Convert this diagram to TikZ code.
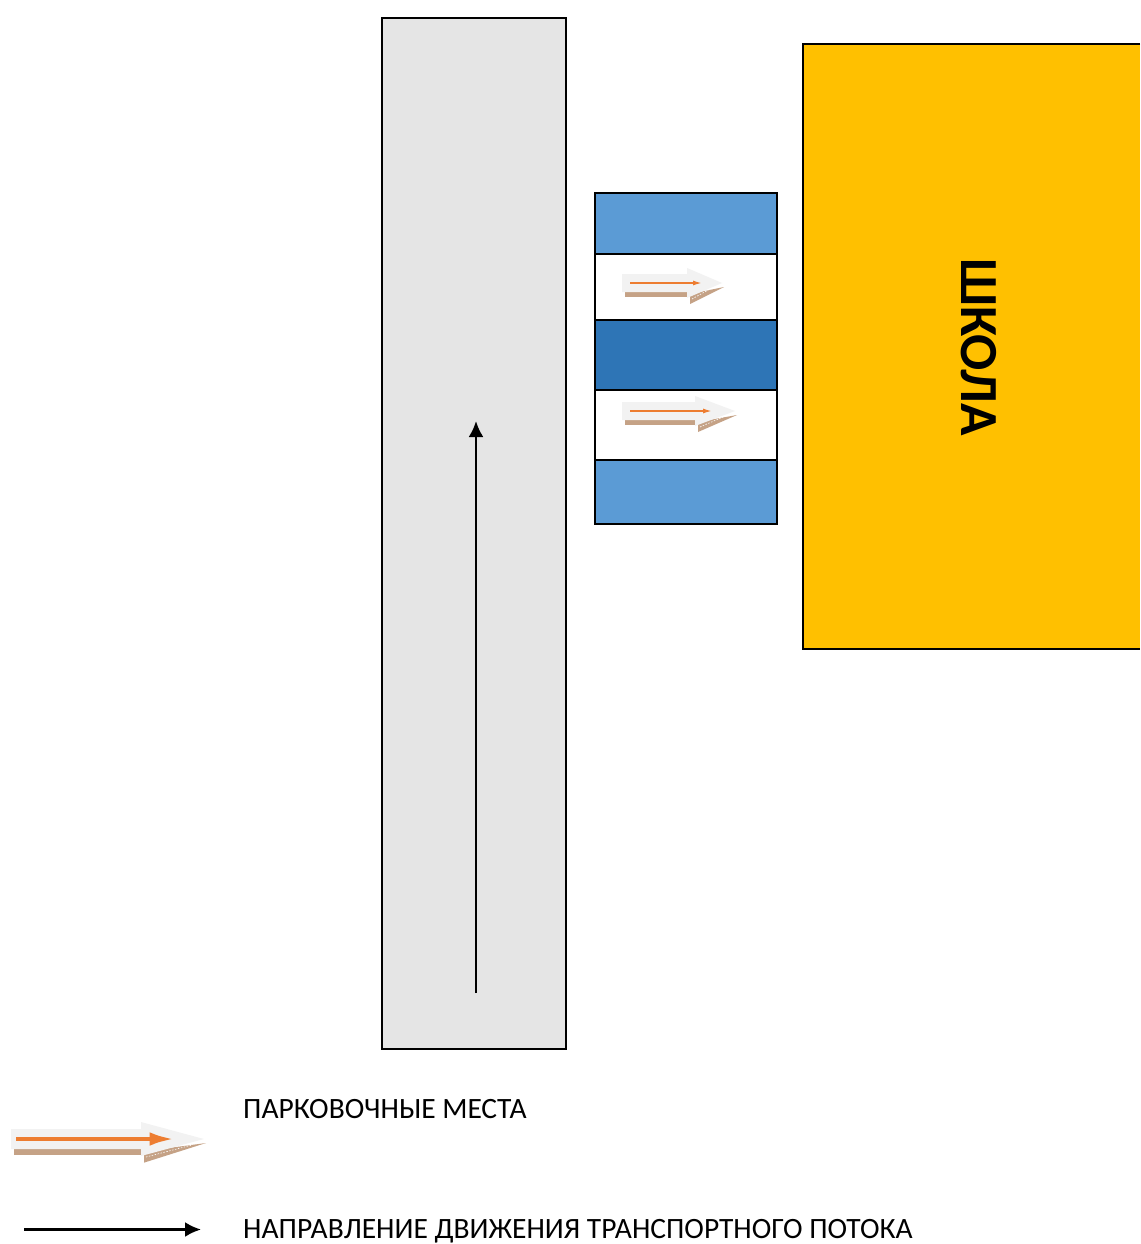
\documentclass[tikz,border=0pt]{standalone}
\usepackage{fontspec}
\setmainfont{Carlito}
\usetikzlibrary{arrows.meta}

\definecolor{roadgray}{HTML}{E5E5E5}
\definecolor{lightblue}{HTML}{5B9BD5}
\definecolor{darkblue}{HTML}{2E75B6}
\definecolor{schoolyellow}{HTML}{FFC000}
\definecolor{parkorange}{HTML}{ED7D31}
\definecolor{parkshadow}{HTML}{C5A286}
\definecolor{parkgray}{HTML}{F2F2F2}

\tikzset{
  box/.style={draw=black, line width=2.4pt},
  flow/.style={draw=black, line width=2.5pt, -{Latex[length=16pt,width=15pt]}},
  legend/.style={anchor=base west, font=\fontsize{29.5}{34}\selectfont},
  shadowdots/.style={draw=white, line width=0.6pt, dash pattern=on 1.5pt off 1.5pt},
}

% #1 x start, #2 x neck, #3 x tip, #4 y centre, #5 half body, #6 half head,
% #7 orange start, #8 orange end, #9 orange line/head scale
\newcommand\parkarrow[9]{
  \fill[parkshadow] (#1+3, #4+#5) rectangle (#2, #4+#5+#6/3);
  \fill[parkshadow] (#2+3, #4+#6*2/3+1) -- (#3+2, #4+4) -- (#2+3, #4+#6*4/3+1) -- cycle;
  \draw[shadowdots] (#2+5, #4+#6+1) -- (#3-12, #4+6);
  \fill[parkgray] (#1, #4-#5) -- (#2, #4-#5) -- (#2, #4-#6) -- (#3, #4)
  -- (#2, #4+#6) -- (#2, #4+#5) -- (#1, #4+#5) -- cycle;
  \draw[draw=parkorange, line width=#9*1.5pt, -{Latex[length=#9*9pt,width=#9*5pt]}]
  (#7, #4) -- (#8, #4);
}

\begin{document}
\begin{tikzpicture}[x=1pt, y=-1pt]

  \useasboundingbox (0, 0) rectangle (1140, 1244);

  \draw[box, fill=roadgray] (382, 18) rectangle (566, 1049);

  \draw[box, fill=lightblue] (595, 193) rectangle (777, 254);
  \draw[box, fill=white] (595, 254) rectangle (777, 320);
  \draw[box, fill=darkblue] (595, 320) rectangle (777, 390);
  \draw[box, fill=white] (595, 390) rectangle (777, 460);
  \draw[box, fill=lightblue] (595, 460) rectangle (777, 524);

  \fill[schoolyellow] (803, 44) rectangle (1140, 649);
  \draw[box] (1140, 44) -- (803, 44) -- (803, 649) -- (1140, 649);
  \node[rotate=-90, font=\fontsize{53.6}{60}\selectfont\bfseries] (school) at (979, 347) {ШКОЛА};

  \parkarrow{622}{687}{722}{283}{9}{15}{630}{702}{1}
  \parkarrow{622}{695}{735}{411}{9}{15}{630}{712}{1}

  % main flow
  \coordinate (flowA) at (476, 993);
  \coordinate (flowB) at (476, 421);
  \draw[flow] (flowA) -- (flowB);

  % legend
  \parkarrow{11}{141}{204}{1139}{10}{17}{16}{174}{2.7}
  \node[legend] (parklabel) at (239.7, 1118) {ПАРКОВОЧНЫЕ МЕСТА};

  \coordinate (keyA) at (24, 1229.5);
  \coordinate (keyB) at (201, 1229.5);
  \draw[flow] (keyA) -- (keyB);
  \node[legend] (flowlabel) at (239.7, 1238) {НАПРАВЛЕНИЕ ДВИЖЕНИЯ ТРАНСПОРТНОГО ПОТОКА};

\end{tikzpicture}
\end{document}
